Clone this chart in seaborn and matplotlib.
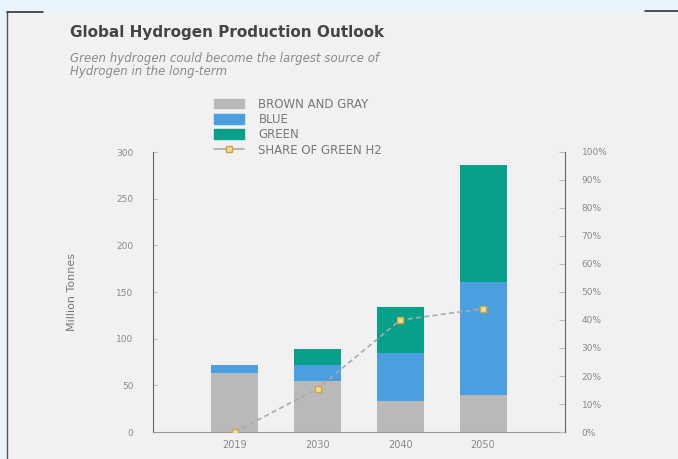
import matplotlib
matplotlib.use("Agg")
import matplotlib.pyplot as plt
import matplotlib.patches as mpatches
from matplotlib.lines import Line2D
import seaborn as sns
import pandas as pd

# Datos
years = ["2019", "2030", "2040", "2050"]
brown_gray = [63, 55, 33, 40]
blue = [9, 17, 52, 121]
green = [0, 17, 49, 125]
share_green = [0, 15.5, 40, 44]

left_ticks = [0, 50, 100, 150, 200, 250, 300]
right_ticks = [0, 10, 20, 30, 40, 50, 60, 70, 80, 90, 100]

c_gray = "#b9b9b9"
c_blue = "#4c9fdf"
c_green = "#07a08a"
c_text = "#8a8a8a"

sns.set_style("white")
plt.rcParams["font.family"] = ["DejaVu Sans"]

df = pd.DataFrame({"year": years, "gray": brown_gray, "blue": blue, "green": green})
df["gb"] = df["gray"] + df["blue"]
df["total"] = df["gb"] + df["green"]

fig = plt.figure(figsize=(6.78, 4.59), dpi=100)
fig.patch.set_facecolor("#e9f5fd")

# tarjeta gris de fondo (detras de todo)
card = mpatches.Rectangle((7 / 678, 0), 1, 1 - 12 / 459, transform=fig.transFigure,
                          facecolor="#f1f1f1", edgecolor="none", zorder=-10)
fig.add_artist(card)
fig.add_artist(Line2D([7 / 678, 7 / 678], [0, 1 - 12 / 459], color="#555555", lw=1.0))
fig.add_artist(Line2D([7 / 678, 43 / 678], [1 - 12 / 459] * 2, color="#333333", lw=1.2))
fig.add_artist(Line2D([645 / 678, 1], [1 - 11 / 459] * 2, color="#333333", lw=1.2))

ax = fig.add_axes([153 / 678, 1 - 432 / 459, 412 / 678, 280 / 459])
ax.set_facecolor("none")

# barras apiladas: se dibuja el total primero y encima los acumulados
sns.barplot(data=df, x="year", y="total", color=c_green, width=0.57, ax=ax,
            saturation=1, linewidth=0)
sns.barplot(data=df, x="year", y="gb", color=c_blue, width=0.57, ax=ax,
            saturation=1, linewidth=0)
sns.barplot(data=df, x="year", y="gray", color=c_gray, width=0.57, ax=ax,
            saturation=1, linewidth=0)

ax.set_xlim(-0.99, 3.99)
ax.set_ylim(0, 300)
ax.set_yticks(left_ticks)
ax.set_yticklabels([str(t) for t in left_ticks])
ax.set_xlabel("")
ax.set_ylabel("Million Tonnes", color="#777777", fontsize=8, labelpad=28)
ax.tick_params(axis="y", direction="in", length=3, color="#bbbbbb",
               labelsize=6.5, labelcolor=c_text, pad=14)
ax.tick_params(axis="x", length=0, labelsize=7, labelcolor=c_text, pad=6)
for s in ["top", "right"]:
    ax.spines[s].set_visible(False)
ax.spines["left"].set_color("#666666")
ax.spines["bottom"].set_color("#999999")

ax2 = ax.twinx()
sns.lineplot(x=[0, 1, 2, 3], y=share_green, ax=ax2, color="#aaaaaa", lw=1.2,
             linestyle=(0, (3, 2)), marker="s", markersize=5,
             markerfacecolor="#e8e39a", markeredgecolor="#d9a040", markeredgewidth=1)
ax2.set_ylim(0, 100)
ax2.set_xlim(-0.99, 3.99)
ax2.set_yticks(right_ticks)
ax2.set_yticklabels([f"{t}%" for t in right_ticks])
ax2.tick_params(axis="y", direction="in", length=4, color="#bbbbbb",
                labelsize=6.5, labelcolor=c_text, pad=12)
for s in ["top", "left", "bottom"]:
    ax2.spines[s].set_visible(False)
ax2.spines["right"].set_color("#666666")

# titulos
fig.text(70 / 678, 1 - 33 / 459, "Global Hydrogen Production Outlook",
         fontsize=11, fontweight="bold", color="#444444", va="center")
fig.text(70 / 678, 1 - 65 / 459,
         "Green hydrogen could become the largest source of\nHydrogen in the long-term",
         fontsize=8.5, style="italic", color="#8a8a8a", va="center", linespacing=1.0)

# leyenda
handles = [
    mpatches.Patch(color=c_gray, label="BROWN AND GRAY"),
    mpatches.Patch(color=c_blue, label="BLUE"),
    mpatches.Patch(color=c_green, label="GREEN"),
    Line2D([], [], color="#aaaaaa", lw=1.2, marker="s", markersize=5,
           markerfacecolor="#e8e39a", markeredgecolor="#d9a040",
           label="SHARE OF GREEN H2"),
]
fig.legend(handles=handles, loc="upper left", bbox_to_anchor=(203 / 678, 1 - 87 / 459),
           frameon=False, fontsize=8.5, labelcolor="#777777", handlelength=2.6,
           handleheight=0.9, labelspacing=0.2, handletextpad=1.2)

plt.savefig("out.png", dpi=100, facecolor=fig.get_facecolor())
